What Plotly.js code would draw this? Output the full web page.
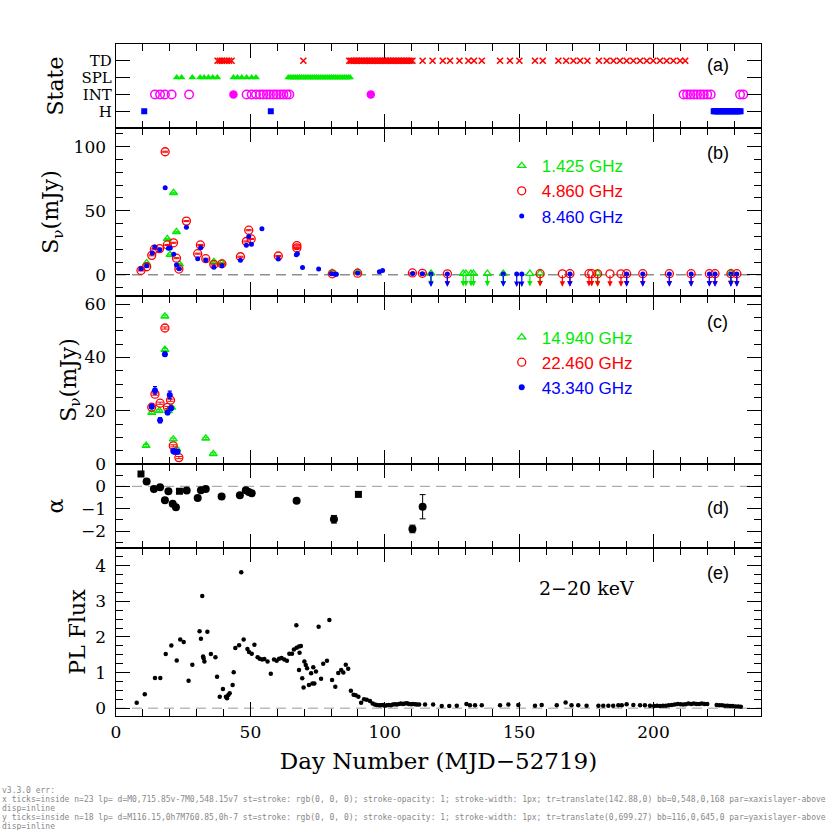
<!DOCTYPE html>
<html>
<head>
<meta charset="utf-8">
<script src="https://cdn.plot.ly/plotly-3.0.1.min.js"></script>
<style>
  html, body { margin: 0; padding: 0; background: #fff; }
  #plot { width: 830px; height: 830px; }
  #dbg { position: absolute; left: 2px; top: 786px; width: 826px; font: 8px monospace; color: #888;
         white-space: pre-wrap; word-break: break-all; }
</style>
</head>
<body>
<div id="plot"></div>
<div id="dbg"></div>
<script>
const errs = [];
window.addEventListener('error', e => errs.push(String(e.message)));
window.addEventListener('unhandledrejection', e => errs.push('rej ' + String(e.reason)));

// ---- panel (a): spectral state per day (H=1, INT=2, SPL=3, TD=4)
const stateTD = [37.8, 38.6, 39.4, 40.3, 41.2, 42.1, 43.0, 69.7,
  86.8, 87.4, 88.0, 88.6, 89.2, 89.8, 90.4, 91.0, 91.6, 92.2, 92.8, 93.4, 94.0, 94.6, 95.2, 95.8,
  96.4, 97.0, 97.6, 98.2, 98.8, 99.4, 100.0, 100.6, 101.2, 101.8, 102.4, 103.0, 103.6, 104.2,
  104.8, 105.4, 106.0, 106.6, 107.2, 107.8, 108.4, 109.0, 109.6, 110.3,
  114.1, 117.8, 121.6, 124.3, 127.8, 131.1, 133.2, 136.1, 142.9, 146.6, 150.1, 155.9, 158.8,
  164.6, 167.5, 170.2, 172.7, 175.4, 179.7, 182.6, 185.1, 187.5, 190.0, 192.5, 195.0, 197.5,
  199.9, 202.4, 204.9, 207.4, 209.9, 211.8];
const stateSPL = [22.6, 24.4, 28.4, 31.3, 32.8, 34.4, 36.0, 37.7, 43.7, 45.2, 46.8, 48.6, 50.5, 52.1,
  64.1, 64.8, 65.5, 66.2, 66.9, 67.6, 68.3, 69.0, 69.7, 70.4, 71.1, 71.8, 72.5, 73.2, 73.9, 74.6,
  75.3, 76.0, 76.7, 77.4, 78.1, 78.8, 79.5, 80.2, 80.9, 81.6, 82.3, 83.0, 83.7, 84.4, 85.1, 85.8,
  86.5, 87.1];
const stateINTopen = [14.5, 16.4, 18.2, 20.7, 27.2, 48.6, 50.5, 52.1, 53.6, 54.8, 56.1, 57.3, 58.6,
  59.8, 61.1, 62.3, 63.5, 64.5, 211.2, 212.5, 213.7, 215.0, 216.2, 217.5, 218.7, 220.0, 221.3,
  232.2, 233.4];
const stateINTfilled = [43.7, 94.8];
const stateH = [10.5, 57.6, 222.4, 222.9, 223.4, 223.9, 224.4, 224.9, 225.4, 225.9, 226.4, 226.9,
  227.4, 227.9, 228.4, 228.9, 229.4, 229.9, 230.4, 230.9, 231.4, 231.9, 232.4];
const stateLevels = [1, 2, 3, 4];
const stateNames = ['H', 'INT', 'SPL', 'TD'];

// ---- panel (b): low frequency radio flux (mJy)
const b1425Day = [11.4, 19.1, 20.1, 21.4, 22.5, 23.6, 36.4, 39.4, 80.4, 89.9];
const b1425Val = [9.2, 28.0, 15.7, 64.0, 33.5, 8.4, 10.2, 9.2, 1.8, 2.2];
const b4860Day = [9.3, 11.4, 13.3, 14.3, 16.2, 18.3, 19.1, 21.4, 22.5, 23.4, 26.2, 30.4, 31.4, 33.4,
  36.4, 39.4, 46.3, 48.5, 49.4, 50.3, 60.4, 67.3, 67.3, 80.5, 89.9, 110.3, 114.0];
const b4860Val = [3.4, 6.3, 15.2, 20.0, 20.4, 96.0, 23.3, 25.0, 13.0, 4.5, 41.9, 16.5, 23.3, 12.6,
  8.1, 8.6, 14.1, 26.0, 34.8, 28.0, 14.7, 22.8, 21.0, 0.8, 1.3, 1.5, 1.2];
const b8460Day = [9.3, 11.4, 13.5, 14.4, 16.3, 18.3, 19.5, 20.2, 21.5, 22.5, 23.5, 26.2, 30.4, 31.5,
  33.4, 36.4, 39.4, 46.3, 48.5, 49.4, 50.4, 54.3, 60.4, 67.1, 67.5, 69.4, 75.4, 80.2, 81.5, 82.0,
  89.9, 98.0, 99.2, 110.4, 114.0];
const b8460Val = [4.7, 7.1, 17.0, 21.7, 19.6, 68.0, 20.7, 21.0, 16.0, 7.6, 4.7, 37.2, 12.6, 21.2,
  11.3, 6.0, 7.1, 11.3, 23.0, 29.8, 23.8, 35.9, 12.3, 15.7, 16.5, 5.8, 4.5, 0.8, 0.5, 0.4,
  1.5, 2.4, 3.4, 1.0, 0.8];
// upper limits (drawn with downward arrows)
const b1425UlDay = [117.2, 129.2, 130.2, 132.1, 133.0, 138.2, 144.1, 154.0, 157.8, 179.2, 228.8];
const b1425UlVal = [1.2, 1.0, 1.0, 1.0, 1.0, 0.9, 1.0, 1.0, 1.2, 1.1, 1.5];
const b4860UlDay = [123.3, 157.8, 166.1, 168.9, 176.0, 177.0, 179.2, 183.8, 187.9, 190.0, 196.0,
  205.9, 214.0, 220.8, 222.9, 228.8, 231.0];
const b4860UlVal = [0.8, 0.9, 0.8, 0.9, 0.9, 0.9, 0.8, 0.8, 0.8, 0.9, 0.9, 0.9, 0.9, 0.9, 0.9, 0.9, 0.9];
const b8460UlDay = [117.2, 123.3, 144.1, 149.1, 151.0, 168.9, 190.0, 196.0, 205.9, 214.0, 220.8,
  222.9, 228.8, 231.0];
const b8460UlVal = [0.6, 0.7, 0.7, 0.6, 0.6, 0.7, 0.7, 0.7, 0.7, 0.7, 0.7, 0.7, 0.7, 0.7];

// ---- panel (c): high frequency radio flux (mJy)
const c14940Day = [11.2, 13.3, 16.1, 18.2, 18.2, 19.5, 20.7, 21.3, 22.6, 33.4, 36.2];
const c14940Val = [6.9, 19.3, 20.0, 55.4, 42.9, 19.9, 21.2, 9.3, 5.6, 9.6, 3.8];
const c22460Day = [13.3, 14.5, 16.4, 18.2, 19.2, 20.3, 21.3, 23.4];
const c22460Val = [21.3, 26.2, 22.8, 51.0, 21.2, 23.9, 6.8, 2.4];
const c43340Day = [13.3, 14.5, 16.4, 18.2, 19.2, 20.0, 20.5, 21.3, 21.8, 22.9];
const c43340Val = [21.6, 27.6, 16.4, 41.2, 19.3, 25.9, 20.9, 4.9, 4.6, 4.6];
const c43340Err = [0.8, 1.4, 1.0, 0.8, 0.8, 1.4, 0.8, 0.8, 0.8, 0.8];

// ---- panel (d): spectral index alpha
const alphaDay = [11.4, 14.1, 16.4, 18.2, 19.5, 21.1, 22.3, 26.3, 30.4, 31.6, 33.4, 39.3, 46.1,
  48.3, 49.4, 50.5, 67.2, 81.1, 110.3, 114.1];
const alphaVal = [0.22, -0.12, -0.04, -0.62, -0.22, -0.78, -0.93, -0.19, -0.52, -0.18, -0.12,
  -0.45, -0.40, -0.18, -0.25, -0.31, -0.64, -1.47, -1.90, -0.91];
const alphaErr = [0.03, 0.03, 0.03, 0.03, 0.03, 0.03, 0.03, 0.03, 0.03, 0.03, 0.03, 0.03, 0.03,
  0.03, 0.03, 0.03, 0.03, 0.17, 0.17, 0.54];
const alphaSqDay = [9.3, 23.6, 90.2];
const alphaSqVal = [0.55, -0.22, -0.36];

// ---- panel (e): 2-20 keV power-law flux
const plDay = [7.7, 10.7, 14.5, 16.5, 18.5, 20.6, 22.6, 23.9, 25.2, 27.0, 28.4, 31.1, 31.6, 32.1,
  32.4, 32.6, 32.9, 34.0, 35.3, 37.0, 37.6, 38.6, 39.8, 40.9, 41.3, 41.8, 42.3, 43.4, 43.8, 44.4,
  45.8, 46.6, 47.5, 48.9, 49.5, 50.5, 51.5, 52.7, 53.5, 54.4, 55.2, 56.4, 57.6, 58.8, 59.8, 60.7,
  61.6, 62.6, 63.6, 64.5, 65.5, 66.2, 67.1, 67.2, 68.1, 68.1, 68.3, 68.8, 69.3, 69.8, 70.1, 70.6,
  71.1, 71.8, 72.6, 73.1, 73.4, 73.8, 74.4, 75.4, 76.3, 77.1, 78.5, 79.4, 80.4, 81.6, 82.7, 83.8,
  84.6, 85.5, 86.4, 87.4, 88.4, 89.2, 90.2, 91.2, 92.3, 93.3, 94.5, 95.5,
  96.3, 97.0, 97.8, 98.5, 99.3, 100.0, 100.8, 101.5, 102.3, 103.0, 103.8, 104.5, 105.3, 106.0,
  106.8, 107.5, 108.3, 109.0, 109.8, 110.5, 111.3, 112.0, 112.8, 115.0, 118.0, 121.2, 124.0,
  126.8, 130.4, 131.7, 133.6, 136.1, 142.9, 146.0, 149.7, 155.9, 158.4, 164.0, 167.3, 169.5,
  172.0, 175.1, 179.5, 181.3, 183.2, 185.0, 186.9, 188.2, 190.0, 192.5, 195.0, 196.8, 198.7,
  200.2, 201.3, 202.4, 203.5, 204.6, 205.7, 206.8, 207.9, 209.0, 210.0, 211.0, 212.0, 213.0,
  214.0, 215.0, 216.0, 217.0, 218.0, 219.0, 220.0, 223.5, 224.5, 225.5, 226.5, 227.5, 228.5,
  229.5, 230.5, 231.5, 232.5];
const plVal = [0.15, 0.39, 0.85, 0.85, 1.52, 1.76, 1.34, 1.93, 1.86, 0.77, 1.22, 2.16, 1.95, 3.15,
  1.45, 1.40, 1.31, 2.15, 1.52, 1.43, 0.88, 0.32, 0.54, 0.32, 0.28, 0.37, 0.42, 0.65, 1.01, 1.69,
  1.77, 3.82, 1.93, 1.66, 1.58, 1.53, 1.78, 1.43, 1.39, 1.37, 1.38, 1.31, 0.97, 1.37, 1.33, 1.39,
  1.41, 1.37, 1.33, 1.53, 1.53, 1.65, 2.33, 1.70, 1.73, 1.07, 1.56, 1.75, 0.84, 0.58, 1.31, 1.21,
  1.12, 0.65, 0.98, 0.69, 1.15, 0.69, 1.03, 2.29, 0.83, 1.25, 1.33, 2.48, 0.79, 0.60, 0.99, 1.07,
  1.00, 1.22, 1.11, 0.49, 0.38, 0.36, 0.32, 0.15, 0.25, 0.24, 0.20, 0.13,
  0.10, 0.09, 0.08, 0.08, 0.09, 0.07, 0.08, 0.09, 0.08, 0.10, 0.11, 0.10, 0.12, 0.13,
  0.12, 0.13, 0.14, 0.12, 0.11, 0.12, 0.11, 0.10, 0.10, 0.10, 0.10, 0.06, 0.06,
  0.07, 0.12, 0.08, 0.08, 0.08, 0.08, 0.10, 0.09, 0.07, 0.09, 0.08, 0.16, 0.08,
  0.08, 0.07, 0.07, 0.07, 0.07, 0.07, 0.08, 0.08, 0.11, 0.09, 0.08, 0.08, 0.07,
  0.06, 0.07, 0.06, 0.07, 0.07, 0.08, 0.09, 0.10, 0.12, 0.11, 0.10, 0.11, 0.13,
  0.12, 0.13, 0.12, 0.12, 0.13, 0.12, 0.12, 0.09, 0.08, 0.08, 0.07, 0.07, 0.06,
  0.06, 0.05, 0.05, 0.04];

const GREEN = 'rgb(0,235,0)';
const RED = 'rgb(255,0,0)';
const BLUE = 'rgb(0,0,255)';
const MAGENTA = 'rgb(255,0,255)';
const SERIF = 'DejaVu Serif, serif';
const SANS = 'Liberation Sans, Arial, sans-serif';
const NBSP = '\u00a0';

// common frame for every x axis (ticks on all sides, like the original)
function xAxis(anchor, labels) {
    return {
        anchor: anchor,
        range: [0, 240],
        ticks: 'inside', ticklen: 14, tickwidth: 1, tickcolor: '#000',
        tick0: 0, dtick: 50,
        minor: { ticks: 'inside', dtick: 10, ticklen: 7, tickwidth: 1, tickcolor: '#000' },
        showline: true, linecolor: '#000', linewidth: 1.3, mirror: 'allticks',
        showgrid: false, zeroline: false,
        showticklabels: labels,
        tickfont: { family: SERIF, size: 17, color: '#000' }
    };
}

function yAxis(anchor, domain, range, dtick, minorDtick, title, standoff) {
    const ax = {
        anchor: anchor,
        domain: domain,
        range: range,
        ticks: 'inside', ticklen: 14, tickwidth: 1, tickcolor: '#000',
        tick0: 0, dtick: dtick,
        showline: true, linecolor: '#000', linewidth: 1.3, mirror: 'allticks',
        showgrid: false, zeroline: false,
        ticksuffix: NBSP,
        tickfont: { family: SERIF, size: 17, color: '#000' },
        title: { text: title, font: { family: SERIF, size: 22, color: '#000' }, standoff: standoff }
    };
    if (minorDtick) {
        ax.minor = { ticks: 'inside', dtick: minorDtick, ticklen: 7, tickwidth: 1, tickcolor: '#000' };
    }
    return ax;
}

const traces = [];

// panel (a)
traces.push({ x: stateTD, y: stateTD.map(() => stateLevels[3]), xaxis: 'x5', yaxis: 'y5',
    type: 'scatter', mode: 'markers', showlegend: false,
    marker: { symbol: 'x-thin-open', size: 6, color: RED, line: { color: RED, width: 1.6 } } });
traces.push({ x: stateSPL, y: stateSPL.map(() => stateLevels[2]), xaxis: 'x5', yaxis: 'y5',
    type: 'scatter', mode: 'markers', showlegend: false,
    marker: { symbol: 'triangle-up', size: 7, color: GREEN } });
traces.push({ x: stateINTopen, y: stateINTopen.map(() => stateLevels[1]), xaxis: 'x5', yaxis: 'y5',
    type: 'scatter', mode: 'markers', showlegend: false,
    marker: { symbol: 'circle-open', size: 8.5, color: MAGENTA, line: { width: 1.5 } } });
traces.push({ x: stateINTfilled, y: stateINTfilled.map(() => stateLevels[1]), xaxis: 'x5', yaxis: 'y5',
    type: 'scatter', mode: 'markers', showlegend: false,
    marker: { symbol: 'circle', size: 8.5, color: MAGENTA } });
traces.push({ x: stateH, y: stateH.map(() => stateLevels[0]), xaxis: 'x5', yaxis: 'y5',
    type: 'scatter', mode: 'markers', showlegend: false,
    marker: { symbol: 'square', size: 6, color: BLUE } });

// panel (b)
const capBar = { type: 'constant', value: 0.4, width: 3, thickness: 1 };
traces.push({ x: b1425Day, y: b1425Val, xaxis: 'x4', yaxis: 'y4', type: 'scatter', mode: 'markers',
    name: '<span style="color:' + GREEN + '">1.425 GHz</span>', legend: 'legend',
    error_y: Object.assign({ color: GREEN }, capBar),
    marker: { symbol: 'triangle-up-open', size: 7, color: GREEN, line: { width: 1.3 } } });
traces.push({ x: b4860Day, y: b4860Val, xaxis: 'x4', yaxis: 'y4', type: 'scatter', mode: 'markers',
    name: '<span style="color:' + RED + '">4.860 GHz</span>', legend: 'legend',
    error_y: Object.assign({ color: RED }, capBar),
    marker: { symbol: 'circle-open', size: 8, color: RED, line: { width: 1.3 } } });
traces.push({ x: b8460Day, y: b8460Val, xaxis: 'x4', yaxis: 'y4', type: 'scatter', mode: 'markers',
    name: '<span style="color:' + BLUE + '">8.460 GHz</span>', legend: 'legend',
    marker: { symbol: 'circle', size: 5, color: BLUE } });
// upper limit markers
traces.push({ x: b1425UlDay, y: b1425UlVal, xaxis: 'x4', yaxis: 'y4', type: 'scatter', mode: 'markers',
    showlegend: false, marker: { symbol: 'triangle-up-open', size: 7, color: GREEN, line: { width: 1.3 } } });
traces.push({ x: b4860UlDay, y: b4860UlVal, xaxis: 'x4', yaxis: 'y4', type: 'scatter', mode: 'markers',
    showlegend: false, marker: { symbol: 'circle-open', size: 8, color: RED, line: { width: 1.3 } } });
traces.push({ x: b8460UlDay, y: b8460UlVal, xaxis: 'x4', yaxis: 'y4', type: 'scatter', mode: 'markers',
    showlegend: false, marker: { symbol: 'circle', size: 5, color: BLUE } });

// panel (c)
traces.push({ x: c14940Day, y: c14940Val, xaxis: 'x3', yaxis: 'y3', type: 'scatter', mode: 'markers',
    name: '<span style="color:' + GREEN + '">14.940 GHz</span>', legend: 'legend2',
    error_y: Object.assign({ color: GREEN }, capBar),
    marker: { symbol: 'triangle-up-open', size: 7, color: GREEN, line: { width: 1.3 } } });
traces.push({ x: c22460Day, y: c22460Val, xaxis: 'x3', yaxis: 'y3', type: 'scatter', mode: 'markers',
    name: '<span style="color:' + RED + '">22.460 GHz</span>', legend: 'legend2',
    error_y: Object.assign({ color: RED }, capBar),
    marker: { symbol: 'circle-open', size: 8, color: RED, line: { width: 1.3 } } });
traces.push({ x: c43340Day, y: c43340Val, xaxis: 'x3', yaxis: 'y3', type: 'scatter', mode: 'markers',
    name: '<span style="color:' + BLUE + '">43.340 GHz</span>', legend: 'legend2',
    error_y: { type: 'data', array: c43340Err, color: BLUE, width: 2, thickness: 1.2 },
    marker: { symbol: 'circle', size: 6, color: BLUE } });

// panel (d)
traces.push({ x: alphaDay, y: alphaVal, xaxis: 'x2', yaxis: 'y2', type: 'scatter', mode: 'markers',
    showlegend: false,
    error_y: { type: 'data', array: alphaErr, color: '#000', width: 3, thickness: 1 },
    marker: { symbol: 'circle', size: 8, color: '#000' } });
traces.push({ x: alphaSqDay, y: alphaSqVal, xaxis: 'x2', yaxis: 'y2', type: 'scatter', mode: 'markers',
    showlegend: false, marker: { symbol: 'square', size: 7, color: '#000' } });

// panel (e)
traces.push({ x: plDay, y: plVal, xaxis: 'x', yaxis: 'y', type: 'scatter', mode: 'markers',
    showlegend: false, marker: { symbol: 'circle', size: 4.5, color: '#000' } });

// downward arrows for the upper limits in panel (b)
function ulArrows(days, vals, color) {
    return days.map((d, i) => ({
        x: d, y: vals[i] - 10, ax: d, ay: vals[i],
        xref: 'x4', yref: 'y4', axref: 'x4', ayref: 'y4',
        text: '', showarrow: true, arrowhead: 2, arrowsize: 0.9, arrowwidth: 1.2,
        arrowcolor: color, standoff: 0, startstandoff: 0
    }));
}

function panelLabel(text, y) {
    return { text: text, xref: 'paper', yref: 'paper', x: 0.933, y: y, xanchor: 'center',
        yanchor: 'middle', showarrow: false, font: { family: SANS, size: 18, color: '#000' } };
}

const annotations = [].concat(
    ulArrows(b1425UlDay, b1425UlVal, GREEN),
    ulArrows(b4860UlDay, b4860UlVal, RED),
    ulArrows(b8460UlDay, b8460UlVal, BLUE),
    [
        panelLabel('(a)', 0.969),
        panelLabel('(b)', 0.838),
        panelLabel('(c)', 0.586),
        panelLabel('(d)', 0.310),
        panelLabel('(e)', 0.213),
        { text: '2\u221220 keV', xref: 'paper', yref: 'paper', x: 0.729, y: 0.19,
          xanchor: 'center', yanchor: 'middle', showarrow: false,
          font: { family: SERIF, size: 19, color: '#000' } }
    ]
);

// dashed zero lines
function zeroLine(yref, color) {
    return { type: 'line', xref: 'paper', x0: 0, x1: 1, yref: yref, y0: 0, y1: 0,
        line: { color: color, width: 1, dash: '10px,6px' }, layer: 'below' };
}

const xBottom = xAxis('y', true);
xBottom.title = { text: 'Day Number (MJD\u221252719)', font: { family: SERIF, size: 23, color: '#000' }, standoff: 12 };

// state axis: linear ticks at the four levels, renamed through labelalias
const stateAlias = {};
stateLevels.forEach((lv, i) => { stateAlias[String(lv)] = stateNames[i]; });
const yState = yAxis('x5', [0.875, 1], [0.005, 4.995], 1, null, 'State', 11);
yState.tick0 = 1;
yState.ticksuffix = '';
yState.labelalias = stateAlias;
yState.tickfont = { family: SERIF, size: 15, color: '#000' };

// alpha axis: top edge kept just under 1 so only 0, -1, -2 are labelled
const yAlpha = yAxis('x2', [0.25, 0.375], [-2.75, 0.995], 1, 0.5, '\u03b1', 11);

const layout = {
    width: 830,
    height: 830,
    margin: { l: 116, r: 69, t: 44, b: 114 },
    paper_bgcolor: '#fff',
    plot_bgcolor: '#fff',
    xaxis: xBottom,
    xaxis2: xAxis('y2', false),
    xaxis3: xAxis('y3', false),
    xaxis4: xAxis('y4', false),
    xaxis5: xAxis('y5', false),
    yaxis: yAxis('x', [0, 0.25], [-0.22, 4.5], 1, 0.25, 'PL Flux', 3),
    yaxis2: yAlpha,
    yaxis3: yAxis('x3', [0.375, 0.625], [0, 63], 20, 5, 'S<sub>\u03bd</sub>(mJy)', 0),
    yaxis4: yAxis('x4', [0.625, 0.875], [-16.5, 114.5], 50, 10, 'S<sub>\u03bd</sub>(mJy)', 8),
    yaxis5: yState,
    legend: {
        x: 0.598, y: 0.845, xanchor: 'left', yanchor: 'top',
        bgcolor: 'rgba(0,0,0,0)', borderwidth: 0,
        font: { family: SANS, size: 17 }
    },
    legend2: {
        x: 0.598, y: 0.59, xanchor: 'left', yanchor: 'top',
        bgcolor: 'rgba(0,0,0,0)', borderwidth: 0,
        font: { family: SANS, size: 17 }
    },
    shapes: [zeroLine('y4', '#555'), zeroLine('y2', '#999'), zeroLine('y', '#999')],
    annotations: annotations
};

Plotly.newPlot('plot', traces, layout, { displayModeBar: false, responsive: false }).then(gd => {
    // temporary check of the tick paths
    let out = 'v' + Plotly.version + ' err:' + errs.join('|') + '\n';
    ['xaxis', 'yaxis', 'xaxis4', 'yaxis4'].forEach(name => {
        const ax = gd._fullLayout[name];
        const id = ax._id;
        const paths = document.querySelectorAll('path.' + id + 'tick');
        const p = paths[0];
        let info = '';
        if (p) {
            const bb = p.getBBox();
            info = ' d=' + String(p.getAttribute('d')).slice(0, 40) + ' st=' + p.getAttribute('style') +
                ' tr=' + p.getAttribute('transform') + ' bb=' + [bb.x, bb.y, bb.width, bb.height].map(Math.round).join(',') +
                ' par=' + p.parentNode.getAttribute('class') + ' disp=' + getComputedStyle(p).display;
        }
        out += id + ' ticks=' + ax.ticks + ' n=' + paths.length + ' lp=' + Object.keys(ax._linepositions || {}).join(',') + info + '\n';
    });
    document.getElementById('dbg').textContent = out;
}).catch(e => { document.getElementById('dbg').textContent = 'ERR ' + e; });
</script>
</body>
</html>
